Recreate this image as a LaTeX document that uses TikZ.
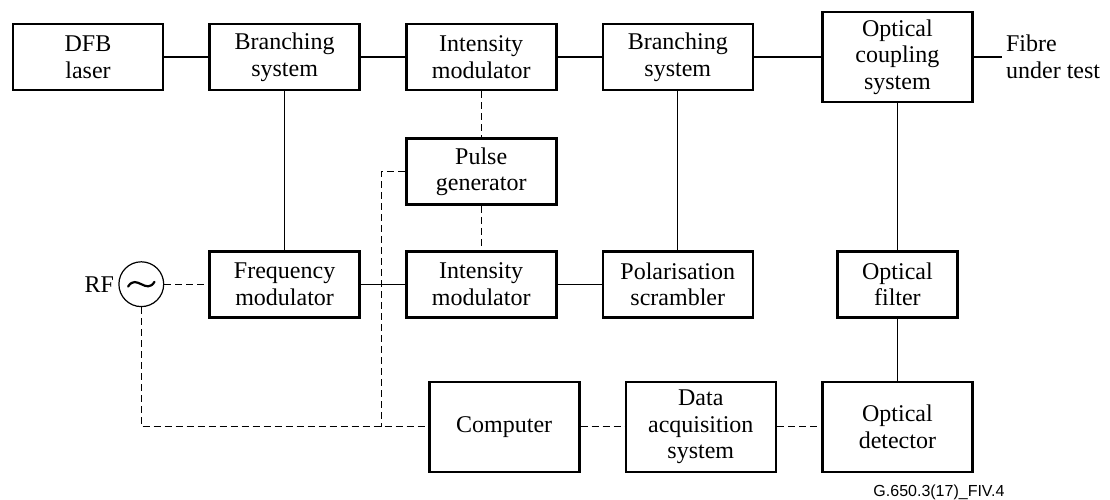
\documentclass[tikz,border=0pt]{standalone}
\usepackage{fontspec}
\setmainfont{Liberation Serif}
\newfontfamily\figfont{Liberation Sans}
\usetikzlibrary{positioning}

\begin{document}
\begin{tikzpicture}[x = 0.5pt, y = -0.5pt,
    txt/.style = {font=\fontsize{12}{13.3}\selectfont},
    blk/.style = {draw, txt, line width=1.3pt, minimum width=75pt, minimum height=33pt, inner sep=1pt, align=center},
    tall/.style = {blk, minimum height=45pt},
    link/.style = {line width=0.6pt},
    ctrl/.style = {link, dash pattern=on 3.5pt off 2pt}]
    \useasboundingbox (0,0) rectangle (1110,499);

    % top row
    \node[blk] (dfb) at (88,57) {DFB\\laser};
    \node[blk] (bs1) [right=22pt of dfb] {Branching\\system};
    \node[blk] (im1) [right=22pt of bs1] {Intensity\\modulator};
    \node[blk] (bs2) [right=22pt of im1] {Branching\\system};
    \node[tall] (ocs) [right=33.5pt of bs2] {Optical\\coupling\\system};
    \node[txt, align=left, inner sep=2pt] (fibre) [right=14pt of ocs] {Fibre\\under test};

    % middle rows
    \node[blk] (pg) [below=23pt of im1] {Pulse\\generator};
    \node[blk] (im2) [below=22pt of pg] {Intensity\\modulator};
    \node[blk] (fm) [left=22pt of im2] {Frequency\\modulator};
    \node[blk] (ps) [right=22pt of im2] {Polarisation\\scrambler};
    \node[blk, minimum width=60pt] (of) at (ocs |- ps) {Optical\\filter};
    \node[draw, circle, link, minimum size=22.4pt, inner sep=0pt] (rf) [left=22pt of fm] {};
    \node[txt, inner sep=2pt] (rft) [left=0pt of rf] {RF};
    % the sine sign
    \draw[line width=1.1pt, line cap=round] ([xshift=-6.6pt, yshift=-1.2pt]rf.center)
        .. controls ([xshift=-2.5pt, yshift=5.5pt]rf.center) and ([xshift=2.5pt, yshift=-5.5pt]rf.center)
        .. ([xshift=6.6pt, yshift=1.2pt]rf.center);

    % bottom row
    \node[tall] (od) [below=31pt of of] {Optical\\detector};
    \node[tall] (daq) [left=22pt of od] {Data\\acquisition\\system};
    \node[tall] (comp) [left=22pt of daq] {Computer};
    \coordinate (k) at ([xshift=-11.75pt]pg.west);
    \coordinate (j) at (k |- comp.west);

    \node[font=\figfont\fontsize{8}{9.6}\selectfont] (code) at (939,492) {G.650.3(17)\_FIV.4};

    \path[link] (dfb) edge (bs1)
    (bs1) edge (im1)
    (im1) edge (bs2)
    (bs2) edge (ocs)
    (ocs) edge (fibre)
    (bs1) edge (fm)
    (fm) edge (im2)
    (im2) edge (ps)
    (bs2) edge (ps)
    (ocs) edge (of)
    (of) edge (od);

    \path[ctrl] (im1) edge (pg)
    (pg) edge (im2)
    (rf) edge (fm)
    (comp) edge (daq)
    (daq) edge (od);
    \draw[ctrl] (rf.south) |- (comp.west);
    \draw[ctrl] (pg.west) -- (k) -- (j);
\end{tikzpicture}
\end{document}
